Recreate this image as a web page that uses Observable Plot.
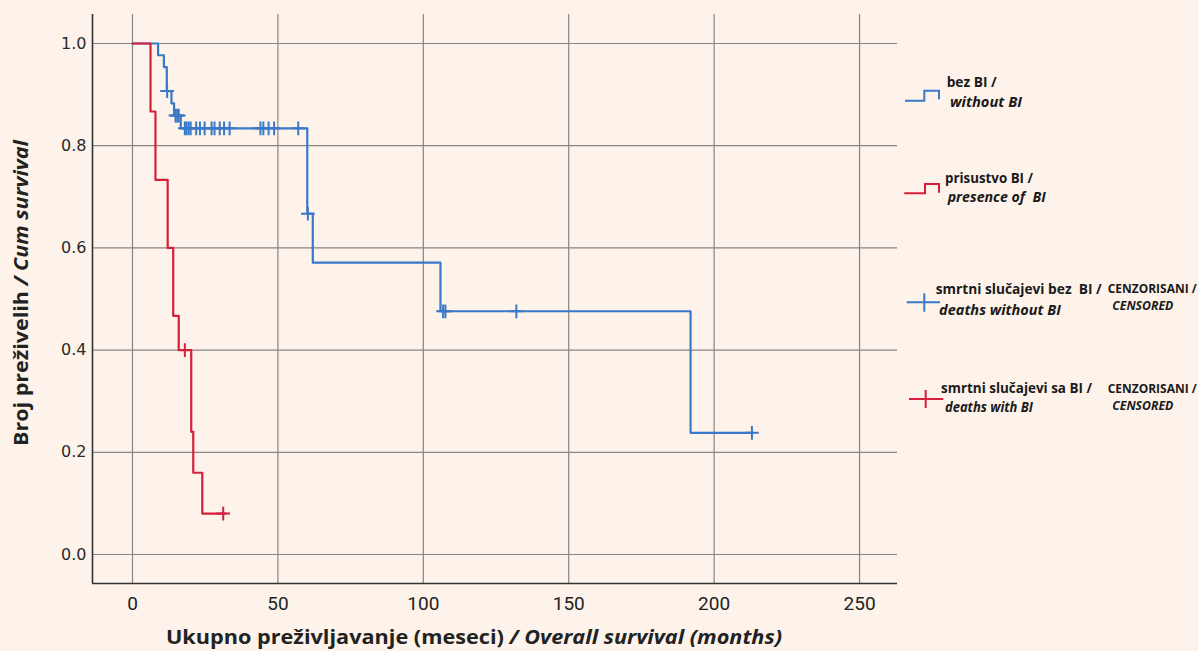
<!DOCTYPE html>
<html><head><meta charset="utf-8">
<script src="https://cdn.jsdelivr.net/npm/d3@7"></script>
<script src="https://cdn.jsdelivr.net/npm/@observablehq/plot@0.6"></script>
<style>html,body{margin:0;padding:0;background:#fdf3ea;} svg{display:block}</style>
</head><body><div id="chart"></div>
<script>
// Kaplan-Meier: without BI (blue)
const blueTimes = [0, 8.8, 10.8, 11.8, 13.4, 14.3, 16.6, 60.1, 62.0, 105.9, 191.9, 213.5];
const blueSurv  = [1, 0.977, 0.954, 0.907, 0.883, 0.859, 0.834, 0.667, 0.571, 0.476, 0.238, 0.238];
const blueCensT = [11.9, 14.8, 15.4, 15.9, 18.0, 18.6, 19.3, 20.0, 21.9, 23.2, 24.8, 27.2, 28.2, 30.0, 31.5, 33.4, 44.0, 45.0, 46.8, 48.7, 57.0, 60.3, 106.8, 107.6, 132.0, 213.0];
const blueCensS = [0.907, 0.859, 0.859, 0.859, 0.834, 0.834, 0.834, 0.834, 0.834, 0.834, 0.834, 0.834, 0.834, 0.834, 0.834, 0.834, 0.834, 0.834, 0.834, 0.834, 0.834, 0.667, 0.476, 0.476, 0.476, 0.238];
// presence of BI (red)
const redTimes = [0, 6.2, 7.9, 12.1, 14.0, 15.9, 20.2, 20.9, 24.0, 32.0];
const redSurv  = [1, 0.867, 0.733, 0.600, 0.467, 0.400, 0.240, 0.160, 0.080, 0.080];
const redCensT = [18.0, 31.2];
const redCensS = [0.400, 0.080];

const xTicks = [0, 50, 100, 150, 200, 250];
const yTicks = [0, 0.2, 0.4, 0.6, 0.8, 1.0];
const xDomain = [-13.75, 263.05];
const yDomain = [-0.0568, 1.0568];

const BLUE = "#3a78c8", RED = "#d71f3c";

const blue = blueTimes.map((t, i) => ({t, s: blueSurv[i]}));
const blueC = blueCensT.map((t, i) => ({t, s: blueCensS[i]}));
const red = redTimes.map((t, i) => ({t, s: redSurv[i]}));
const redC = redCensT.map((t, i) => ({t, s: redCensS[i]}));

const plot = Plot.plot({
  width: 1198, height: 651,
  marginLeft: 92, marginRight: 301, marginTop: 14, marginBottom: 68,
  style: {background: "transparent", fontFamily: "DejaVu Sans"},
  x: {domain: xDomain, ticks: xTicks, label: null},
  y: {domain: yDomain, ticks: yTicks, label: null},
  marks: [
    Plot.gridX(xTicks, {stroke: "#858585", strokeOpacity: 1, strokeWidth: 1.2}),
    Plot.gridY(yTicks, {stroke: "#858585", strokeOpacity: 1, strokeWidth: 1.2}),
    Plot.axisX(xTicks, {tickSize: 0, tickPadding: 13, fontSize: 19, fontFamily: "Roboto", color: "#222", tickFormat: d => String(d), label: null}),
    Plot.axisY(yTicks, {tickSize: 0, tickPadding: 6, fontSize: 16, fontFamily: "DejaVu Sans", color: "#2a2a2a", tickFormat: d3.format(".1f"), label: null}),
    Plot.ruleX([xDomain[0]], {stroke: "#333", strokeWidth: 1.6}),
    Plot.ruleY([yDomain[0]], {stroke: "#333", strokeWidth: 1.6}),
    Plot.line(blue, {x: "t", y: "s", curve: "step-after", stroke: BLUE, strokeWidth: 2.2}),
    Plot.dot(blueC, {x: "t", y: "s", symbol: "plus", r: 4.5, stroke: BLUE, strokeWidth: 2}),
    Plot.line(red, {x: "t", y: "s", curve: "step-after", stroke: RED, strokeWidth: 2.2}),
    Plot.dot(redC, {x: "t", y: "s", symbol: "plus", r: 4.5, stroke: RED, strokeWidth: 2})
  ]
});
document.getElementById("chart").appendChild(plot);

const svg = d3.select(plot);
const F = "'Open Sans', 'Noto Sans', sans-serif";

// axis titles
const xt = svg.append("text").attr("x", 166).attr("y", 644).attr("text-anchor", "start")
  .attr("font-family", F).attr("font-size", 20).attr("font-weight", 700).attr("fill", "#222")
  .attr("textLength", 616).attr("lengthAdjust", "spacingAndGlyphs");
xt.append("tspan").text("Ukupno preživljavanje (meseci) ");
xt.append("tspan").attr("font-style", "italic").text("/ Overall survival (months)");

const yt = svg.append("text").attr("transform", "translate(28,293) rotate(-90)")
  .attr("text-anchor", "middle")
  .attr("font-family", F).attr("font-size", 20).attr("font-weight", 700).attr("fill", "#222")
  .attr("textLength", 306).attr("lengthAdjust", "spacingAndGlyphs");
yt.append("tspan").text("Broj preživelih ");
yt.append("tspan").attr("font-style", "italic").text("/ Cum survival");

// legend
const lg = svg.append("g");
lg.append("path").attr("d", "M905,100.7H924.3V90.7H939V99.3").attr("fill", "none").attr("stroke", BLUE).attr("stroke-width", 2);
lg.append("path").attr("d", "M904.3,193.3H925V184H939V192.7").attr("fill", "none").attr("stroke", RED).attr("stroke-width", 2);
lg.append("path").attr("d", "M906.7,302.3H940M924.3,293.3V311.7").attr("fill", "none").attr("stroke", BLUE).attr("stroke-width", 2);
lg.append("path").attr("d", "M909,399H943.3M925.7,390V408").attr("fill", "none").attr("stroke", RED).attr("stroke-width", 2);

const items = [
  ["bez BI /", 946.7, 86.7, 50, false, 14],
  ["without BI", 950, 106.7, 72, true, 14],
  ["prisustvo BI /", 945, 182.7, 88, false, 14],
  ["presence of  BI", 947.7, 201.7, 98, true, 14],
  ["smrtni slučajevi bez  BI /", 935.7, 294, 166, false, 14],
  ["deaths without BI", 939, 315, 122, true, 14],
  ["CENZORISANI /", 1107.7, 292.7, 89, false, 11.5],
  ["CENSORED", 1112.3, 310, 61, true, 11.5],
  ["smrtni slučajevi sa BI /", 941, 393.3, 151, false, 14],
  ["deaths with BI", 945, 411.7, 88, true, 14],
  ["CENZORISANI /", 1107.7, 393.3, 89, false, 11.5],
  ["CENSORED", 1112.3, 410, 61, true, 11.5]
];
for (const [txt, x, y, w, it, fs] of items) {
  lg.append("text").attr("x", x).attr("y", y).text(txt).attr("text-anchor", "start")
    .attr("font-family", F).attr("font-size", fs).attr("font-weight", 700)
    .attr("font-style", it ? "italic" : "normal").attr("fill", "#1a1a1a")
    .attr("textLength", w).attr("lengthAdjust", "spacingAndGlyphs");
}
</script>
</body></html>
